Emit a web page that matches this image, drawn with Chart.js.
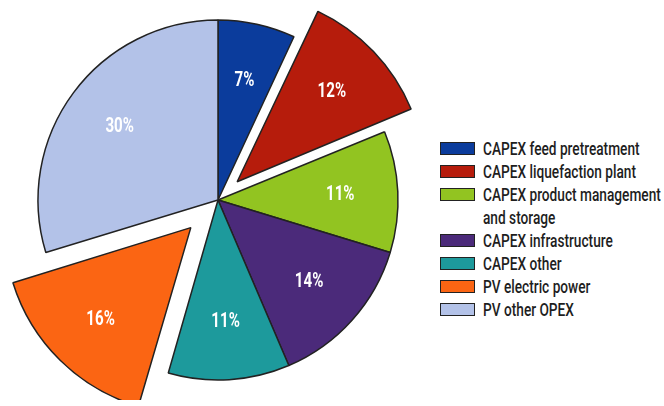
<!DOCTYPE html>
<html>
<head>
<meta charset="utf-8">
<script src="https://cdn.jsdelivr.net/npm/chart.js@4/dist/chart.umd.min.js"></script>
<style>
  body { margin: 0; background: #fff; width: 664px; height: 406px; overflow: hidden; position: relative; }
  #wrap { position: absolute; left: 0; top: 0; width: 436px; height: 400px; }
  #legend { position: absolute; left: 440px; top: 137px; font-family: Roboto, "Liberation Sans", sans-serif; font-weight: 500; font-size: 19px; color: #1e1e1e; white-space: nowrap; }
  .row { position: relative; height: 23px; line-height: 23px; }
  .row.two { height: 46px; }
  .box { position: absolute; left: 0; top: 5px; width: 35px; height: 13px; box-sizing: border-box; border: 1.5px solid #222; }
  .txt { position: absolute; left: 43px; top: 0; transform: scaleX(0.72); transform-origin: 0 0; }
</style>
</head>
<body>
<div id="wrap"><canvas id="pie"></canvas></div>
<div id="legend"></div>
<script>
// Kostenanteile (Prozent), im Uhrzeigersinn ab 12 Uhr
const labels = [
  'CAPEX feed pretreatment',
  'CAPEX liquefaction plant',
  'CAPEX product management and storage',
  'CAPEX infrastructure',
  'CAPEX other',
  'PV electric power',
  'PV other OPEX'
];
const shares = [7, 12, 11, 14, 11, 16, 30];
const sliceColors = ['#0b3c9c', '#b61c0c', '#92c421', '#4b2a7a', '#1d9a9c', '#fb6513', '#b3c2e8'];
// wie weit ein Stück herausgezogen ist (px)
const explode = [0, 35, 0, 0, 0, 45, 0];

const total = shares.reduce((a, b) => a + b, 0);

// Chart.js verschiebt um offset/4 * (1 + fix) – zurückrechnen
function arcOffset(i) {
  const circ = shares[i] / total * 2 * Math.PI;
  const fix = 1 - Math.sin(Math.min(Math.PI, circ));
  return 4 * explode[i] / (1 + fix);
}

// Prozentwerte in die Tortenstücke schreiben
const sliceText = {
  id: 'sliceText',
  afterDatasetsDraw(chart) {
    const ctx = chart.ctx;
    const meta = chart.getDatasetMeta(0);
    ctx.save();
    ctx.fillStyle = '#fff';
    ctx.font = 'bold 21px Roboto, "Liberation Sans", sans-serif';
    ctx.textAlign = 'center';
    ctx.textBaseline = 'middle';
    meta.data.forEach((arc, i) => {
      const p = arc.getProps(['x', 'y', 'startAngle', 'endAngle', 'outerRadius'], true);
      const mid = (p.startAngle + p.endAngle) / 2;
      const r = p.outerRadius * 0.68 + explode[i];
      ctx.save();
      ctx.translate(p.x + Math.cos(mid) * r, p.y + Math.sin(mid) * r);
      ctx.scale(0.72, 1);
      ctx.fillText(shares[i] + '%', 0, 0);
      ctx.restore();
    });
    ctx.restore();
  }
};

new Chart(document.getElementById('pie'), {
  type: 'pie',
  data: {
    labels: labels,
    datasets: [{
      data: shares,
      backgroundColor: sliceColors,
      borderColor: '#222',
      borderWidth: 1.5,
      offset: c => arcOffset(c.dataIndex)
    }]
  },
  options: {
    responsive: true,
    maintainAspectRatio: false,
    animation: false,
    radius: 180,
    plugins: {
      legend: { display: false },
      tooltip: { enabled: false }
    }
  },
  plugins: [sliceText]
});

// Legende rechts
const legend = document.getElementById('legend');
labels.forEach((name, i) => {
  const row = document.createElement('div');
  row.className = 'row';
  let text = name;
  if (name === 'CAPEX product management and storage') {
    row.className = 'row two';
    text = 'CAPEX product management<br>and storage';
  }
  row.innerHTML = '<div class="box" style="background:' + sliceColors[i] + '"></div><div class="txt">' + text + '</div>';
  legend.appendChild(row);
});
</script>
</body>
</html>
